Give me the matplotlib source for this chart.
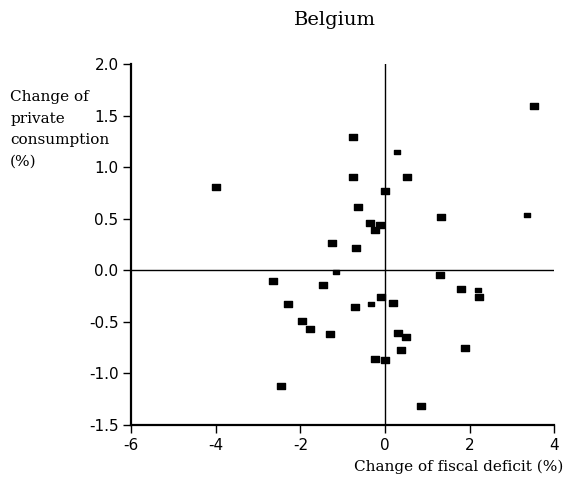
import matplotlib
matplotlib.use("Agg")
import matplotlib.pyplot as plt
from matplotlib.path import Path

# Belgium: change of fiscal deficit vs change of private consumption (%)
fiscal_deficit_change = [
    3.51, -0.76, 0.29, -4.00, -0.75, 0.51, 0.00, -0.63, 1.33, 3.36,
    -0.35, -0.11, -0.23, -1.26, -0.69, -1.15, -2.64, 1.30, -1.46, 1.79,
    2.19, 2.21, -0.09, 0.20, -0.32, -2.29, -0.70, -1.97, -1.76, -1.29,
    0.31, 0.49, 0.39, 1.90, -0.24, 0.00, -2.45, 0.86,
]
private_consumption_change = [
    1.59, 1.29, 1.15, 0.81, 0.90, 0.90, 0.77, 0.61, 0.52, 0.54,
    0.46, 0.44, 0.39, 0.26, 0.22, -0.02, -0.10, -0.045, -0.14, -0.18,
    -0.19, -0.26, -0.26, -0.32, -0.33, -0.33, -0.36, -0.49, -0.57, -0.62,
    -0.61, -0.65, -0.77, -0.75, -0.86, -0.87, -1.12, -1.32,
]
# observations drawn with the smaller marker
small_points = [2, 9, 15, 20, 24]

x_ticks = [-6, -4, -2, 0, 2, 4]
y_ticks = [-1.5, -1.0, -0.5, 0.0, 0.5, 1.0, 1.5, 2.0]
y_tick_labels = ["-1.5", "-1.0", "-0.5", "0.0", "0.5", "1.0", "1.5", "2.0"]
y_label_lines = ["Change of", "private", "consumption", "(%)"]

serif = ["DejaVu Serif"]
sans = ["DejaVu Sans"]

fig = plt.figure(figsize=(5.65, 4.83), dpi=100)
ax = fig.add_axes([0.2319, 0.120, 0.981 - 0.2319, 0.8675 - 0.120])

# slightly wide rectangle marker
rect = Path([(-0.6, -0.5), (0.6, -0.5), (0.6, 0.5), (-0.6, 0.5), (-0.6, -0.5)],
            [Path.MOVETO, Path.LINETO, Path.LINETO, Path.LINETO, Path.CLOSEPOLY])

big_x = [x for i, x in enumerate(fiscal_deficit_change) if i not in small_points]
big_y = [y for i, y in enumerate(private_consumption_change) if i not in small_points]
sm_x = [fiscal_deficit_change[i] for i in small_points]
sm_y = [private_consumption_change[i] for i in small_points]

ax.plot(big_x, big_y, linestyle="none", marker=rect, markersize=5.5,
        color="black", zorder=3)
ax.plot(sm_x, sm_y, linestyle="none", marker=rect, markersize=4.3,
        color="black", zorder=3)

ax.axhline(0, color="black", linewidth=1.0, zorder=2)
ax.axvline(0, color="black", linewidth=1.0, zorder=2)

ax.set_xlim(-6, 4)
ax.set_ylim(-1.5, 2.0)
ax.set_xticks(x_ticks)
ax.set_xticklabels([str(t) for t in x_ticks], family=sans)
ax.set_yticks(y_ticks)
ax.set_yticklabels(y_tick_labels, family=sans)

for side in ("top", "right"):
    ax.spines[side].set_visible(False)
for side in ("left", "bottom"):
    ax.spines[side].set_linewidth(1.6)

ax.tick_params(axis="both", direction="out", length=6, width=1.0,
               labelsize=11, pad=3)

fig.text(0.593, 0.958, "Belgium", ha="center", va="center", fontsize=14,
         family=serif)
for k, line in enumerate(y_label_lines):
    fig.text(0.018, 1 - (97 + 21.5 * k) / 483, line, ha="left", va="center",
             fontsize=11, family=serif)
fig.text(0.998, 0.034, "Change of fiscal deficit (%)", ha="right",
         va="center", fontsize=11, family=serif)

fig.savefig("out.png", dpi=100)
